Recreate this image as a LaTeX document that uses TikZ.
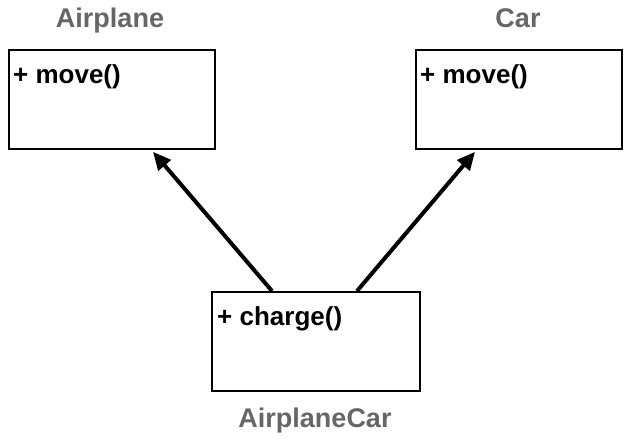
\documentclass[tikz,border=0pt]{standalone}
\usepackage{fontspec}
\setmainfont{Liberation Sans}
\usetikzlibrary{arrows.meta,calc}
\definecolor{titlegray}{HTML}{666666}
\tikzset{
  classbox/.style={draw, line width=1.8pt, rectangle, minimum width=206pt, minimum height=99pt, inner sep=0pt, anchor=north west},
  member/.style={anchor=base west, font=\fontsize{26}{30}\selectfont\bfseries, inner sep=0pt},
  title/.style={anchor=base, font=\fontsize{27}{31}\selectfont\bfseries, text=titlegray, inner sep=0pt},
  inherit/.style={line width=4pt, -{Triangle[length=18pt, width=16pt]}, shorten >=0pt}
}
\begin{document}
\begin{tikzpicture}[x=1pt, y=-1pt]
\useasboundingbox (0,0) rectangle (629,440);
\node[classbox] (air) at (8,49) {};
\node[classbox] (car) at (415,49) {};
\node[classbox, minimum width=208pt] (ac) at (211,291) {};
\node[member] (airm) at ($(air.north west)+(5,34)$) {+ move()};
\node[member] (carm) at ($(car.north west)+(5,34)$) {+ move()};
\node[member] (acm) at ($(ac.north west)+(6,34)$) {+ charge()};
\node[title] (airt) at (110,27) {Airplane};
\node[title] (cart) at (518,27) {Car};
\node[title] (act) at (315,427) {AirplaneCar};
\draw[inherit] ($(ac.north west)+(61,0)$) -- ($(air.south west)+(145,2)$);
\draw[inherit] ($(ac.north west)+(146,0)$) -- ($(car.south west)+(60,2)$);
\end{tikzpicture}
\end{document}
